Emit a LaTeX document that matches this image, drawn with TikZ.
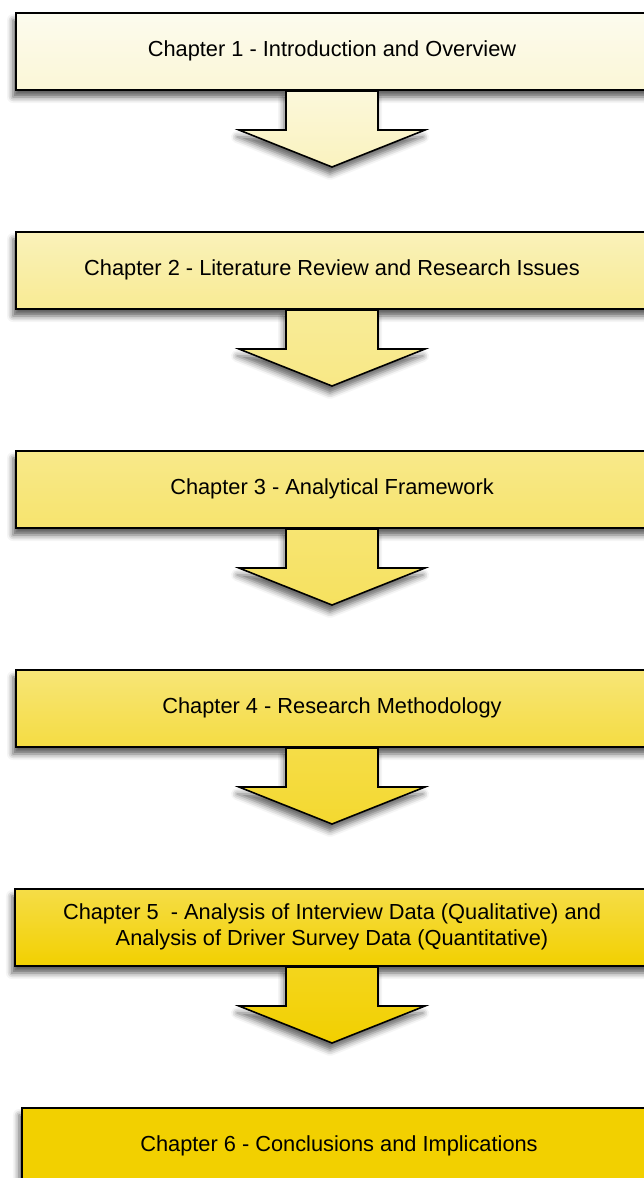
\documentclass[tikz,border=0pt]{standalone}
\usepackage{fontspec}
\setmainfont{Liberation Sans}
\usetikzlibrary{calc,shadows.blur}

% palette: the fill runs from pale cream at the top to gold at the bottom
\definecolor{cream}{RGB}{252,251,238}
\definecolor{gold}{RGB}{242,208,0}

\tikzset{
  chapbox/.style={draw=black, line width=2pt, rectangle, anchor=north west,
    minimum height=77pt, inner sep=0pt,
    blur shadow={shadow xshift=-3pt, shadow yshift=-7pt,
                 shadow blur radius=6pt, shadow opacity=65}},
  chaptext/.style={font=\fontsize{21.8}{26}\selectfont, align=center,
    inner sep=0pt, text=black},
  blockarrow/.style={draw=black, line width=1.6pt, line join=miter,
    blur shadow={shadow xshift=-2pt, shadow yshift=-7pt,
                 shadow blur radius=6pt, shadow opacity=60}},
}

% downward block arrow hanging from the bottom edge of a box,
% centred under the box's label
\newcommand{\chapterarrow}[4]{%
  \path[blockarrow, top color=#3, bottom color=#4]
    ($(#2|-#1.south)+(-46,0)$) -- ++(0,39) -- ++(-47,0)
    -- ($(#2|-#1.south)+(0,76)$)
    -- ($(#2|-#1.south)+(93,39)$) -- ++(-47,0) -- ++(0,-39) -- cycle;}

\begin{document}
\begin{tikzpicture}[x=1pt, y=-1pt]
\useasboundingbox (0,0) rectangle (644,1178);

% chapter boxes
\node[chapbox, minimum width=665pt, top color=cream, bottom color=gold!10!cream]
  (c1) at (15,12) {};
\node[chaptext] (t1) at (332,51) {Chapter 1 - Introduction and Overview};
\chapterarrow{c1}{t1}{gold!8!cream}{gold!20!cream}

\node[chapbox, minimum width=665pt, top color=gold!22!cream, bottom color=gold!38!cream]
  (c2) at (15,231) {};
\node[chaptext] (t2) at (332,270) {Chapter 2 - Literature Review and Research Issues};
\chapterarrow{c2}{t2}{gold!36!cream}{gold!44!cream}

\node[chapbox, minimum width=665pt, top color=gold!42!cream, bottom color=gold!54!cream]
  (c3) at (15,450) {};
\node[chaptext] (t3) at (332,489) {Chapter 3 - Analytical Framework};
\chapterarrow{c3}{t3}{gold!52!cream}{gold!60!cream}

\node[chapbox, minimum width=665pt, top color=gold!50!cream, bottom color=gold!72!cream]
  (c4) at (15,669) {};
\node[chaptext] (t4) at (332,708) {Chapter 4 - Research Methodology};
\chapterarrow{c4}{t4}{gold!70!cream}{gold!80!cream}

\node[chapbox, minimum width=665pt, top color=gold!70!cream, bottom color=gold]
  (c5) at (14,888) {};
\node[chaptext] (t5) at (332,927) {Chapter 5 \ - Analysis of Interview Data (Qualitative) and\\
  Analysis of Driver Survey Data (Quantitative)};
\chapterarrow{c5}{t5}{gold!88!cream}{gold}

\node[chapbox, minimum width=660pt, fill=gold]
  (c6) at (21,1107) {};
\node[chaptext] (t6) at (339,1146) {Chapter 6 - Conclusions and Implications};
\end{tikzpicture}
\end{document}
